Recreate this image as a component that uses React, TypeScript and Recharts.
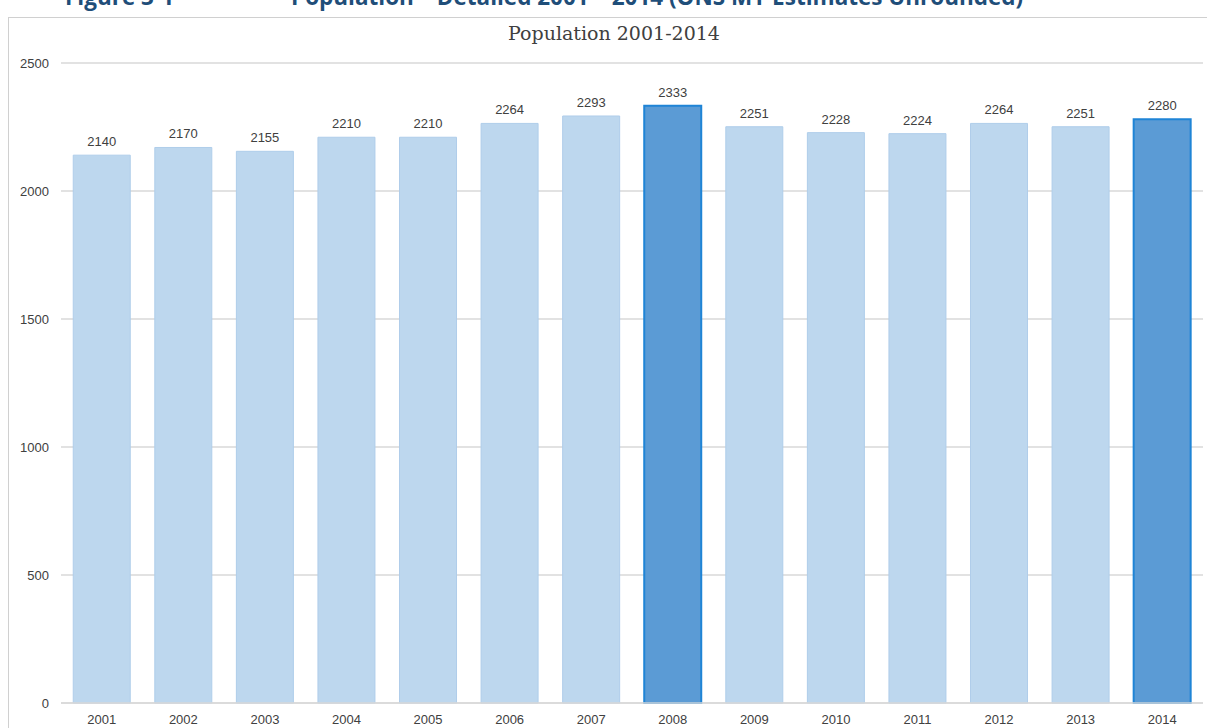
import React from 'react';
import { BarChart, Bar, XAxis, YAxis, CartesianGrid, Cell, LabelList } from 'recharts';

const years = ['2001','2002','2003','2004','2005','2006','2007','2008','2009','2010','2011','2012','2013','2014'];
const population = [2140, 2170, 2155, 2210, 2210, 2264, 2293, 2333, 2251, 2228, 2224, 2264, 2251, 2280];
const highlighted = ['2008', '2014'];
const yTicks = [0, 500, 1000, 1500, 2000, 2500];

const data = years.map((y, i) => ({ year: y, value: population[i] }));

export default function App() {
  return (
    <div style={{ position: 'absolute', left: 0, top: 0, width: 1207, height: 728, overflow: 'hidden', background: '#fff' }}>
      <div style={{ position: 'absolute', left: 65, top: -19, whiteSpace: 'nowrap', fontFamily: '"Open Sans", sans-serif', fontWeight: 700, fontSize: 22.5, color: '#1F4E79' }}>
        Figure 3-1
      </div>
      <div style={{ position: 'absolute', left: 291, top: -19, whiteSpace: 'nowrap', fontFamily: '"Open Sans", sans-serif', fontWeight: 700, fontSize: 22.5, color: '#1F4E79' }}>
        Population – Detailed 2001 – 2014 (ONS MY Estimates Unrounded)
      </div>
      <div style={{ position: 'absolute', left: 8, top: 17, width: 1300, height: 800, border: '1.5px solid #d0d0d0' }} />
      <div style={{ position: 'absolute', left: 614, top: 22, transform: 'translateX(-50%)', whiteSpace: 'nowrap', fontFamily: '"DejaVu Serif", serif', fontSize: 19, color: '#404040' }}>
        Population 2001-2014
      </div>
      <div style={{ position: 'absolute', left: 0, top: 0 }}>
        <BarChart width={1207} height={728} data={data} margin={{ top: 63, right: 4, bottom: 5, left: 11 }} barCategoryGap="15%">
          <CartesianGrid horizontal={true} vertical={false} stroke="#d9d9d9" strokeWidth={1.3} />
          <XAxis dataKey="year" axisLine={{ stroke: '#d9d9d9', strokeWidth: 1.3 }} tickLine={false} height={20} tickMargin={6}
            tick={{ fill: '#404040', fontSize: 13, fontFamily: '"Liberation Sans", sans-serif' }} interval={0} />
          <YAxis domain={[0, 2500]} ticks={yTicks} axisLine={false} tickLine={false} width={50} tickMargin={6}
            tick={{ fill: '#404040', fontSize: 13, fontFamily: '"Liberation Sans", sans-serif' }} />
          <Bar dataKey="value" isAnimationActive={false}>
            {data.map((d) => (
              <Cell key={d.year}
                fill={highlighted.includes(d.year) ? '#5B9BD5' : '#BDD7EE'}
                stroke={highlighted.includes(d.year) ? '#1F84D6' : '#AFCDEA'}
                strokeWidth={highlighted.includes(d.year) ? 2 : 1} />
            ))}
            <LabelList dataKey="value" position="top" offset={9} fill="#404040" fontSize={13} fontFamily='"Liberation Sans", sans-serif' />
          </Bar>
        </BarChart>
      </div>
    </div>
  );
}
